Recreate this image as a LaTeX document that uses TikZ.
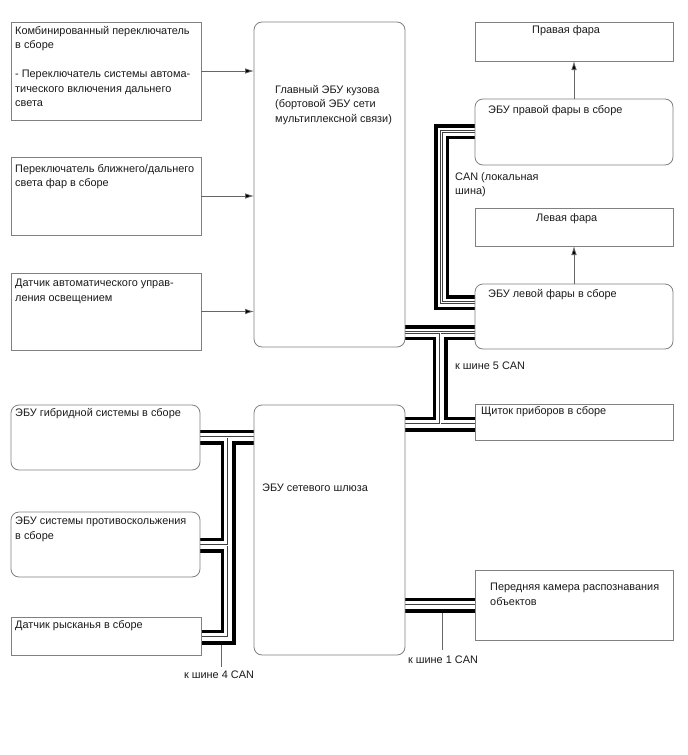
\documentclass[tikz,border=0pt]{standalone}
\usepackage{fontspec}
\setmainfont{Liberation Sans}
\usetikzlibrary{arrows.meta}
\pgfdeclarelayer{background}
\pgfsetlayers{background,main}
\definecolor{boxgray}{HTML}{808080}
\definecolor{txtcol}{HTML}{1A1A1A}
\newcommand\canbus[1]{%
  \draw[line width=15pt,black] #1;
  \draw[line width=8pt,white] #1;
  \draw[line width=2.2pt,black!75] #1;
  \draw[line width=0.7pt,white] #1;}
\begin{document}
\begin{tikzpicture}[x=1pt,y=-1pt,
  sq/.style={draw=boxgray, line width=0.8pt, inner sep=0pt, outer sep=0pt, anchor=north west},
  rnd/.style={sq, rounded corners=8pt},
  txt/.style={anchor=north west, inner sep=0pt, align=left, text=txtcol,
    font=\fontsize{10.9}{14.5}\selectfont},
  arr/.style={draw=black!60, line width=0.7pt, -{Latex[length=9pt,width=5.5pt,fill=black]}},
  stub/.style={draw=black!60, line width=0.8pt}]
\useasboundingbox (0,0) rectangle (688,755);
% boxes
\node[sq,  minimum width=190, minimum height=98]  (combo) at (11,22) {};
\node[sq,  minimum width=190, minimum height=78]  (beam) at (11,157) {};
\node[sq,  minimum width=190, minimum height=77]  (lsens) at (11,273) {};
\node[rnd, minimum width=151, minimum height=325] (mainecu) at (254,22) {};
\node[sq,  minimum width=198, minimum height=39]  (rhl) at (475,22) {};
\node[rnd, minimum width=198, minimum height=66]  (rhlecu) at (475,99) {};
\node[sq,  minimum width=198, minimum height=38]  (lhl) at (475,208) {};
\node[rnd, minimum width=198, minimum height=65]  (lhlecu) at (475,284) {};
\node[rnd, minimum width=189, minimum height=65]  (hybrid) at (11,405) {};
\node[rnd, minimum width=189, minimum height=65]  (abs) at (11,512) {};
\node[sq,  minimum width=190, minimum height=38]  (yaw) at (11,617) {};
\node[rnd, minimum width=151, minimum height=250] (gateway) at (254,405) {};
\node[sq,  minimum width=198, minimum height=36]  (meter) at (475,404) {};
\node[sq,  minimum width=198, minimum height=70]  (camera) at (475,570) {};
% texts
\node[txt] (t-combo) at (15,26) {Комбинированный переключатель\\в сборе\\[14.5pt]- Переключатель системы автома-\\тического включения дальнего\\света};
\node[txt] (t-beam) at (15,164) {Переключатель ближнего/дальнего\\света фар в сборе};
\node[txt] (t-lsens) at (15,279) {Датчик автоматического управ-\\ления освещением};
\node[txt] (t-main) at (275,85) {Главный ЭБУ кузова\\(бортовой ЭБУ сети\\мультиплексной связи)};
\node[txt] (t-rhl) at (532,25) {Правая фара};
\node[txt] (t-rhlecu) at (488,105) {ЭБУ правой фары в сборе};
\node[txt] (t-lhl) at (536,213) {Левая фара};
\node[txt] (t-lhlecu) at (488,289) {ЭБУ левой фары в сборе};
\node[txt] (t-hybrid) at (15,408) {ЭБУ гибридной системы в сборе};
\node[txt] (t-abs) at (15,517) {ЭБУ системы противоскольжения\\в сборе};
\node[txt] (t-yaw) at (15,620) {Датчик рысканья в сборе};
\node[txt] (t-gw) at (262,484) {ЭБУ сетевого шлюза};
\node[txt] (t-meter) at (481,406) {Щиток приборов в сборе};
\node[txt] (t-cam) at (490,583) {Передняя камера распознавания\\объектов};
\node[txt] (t-local) at (455,172) {CAN (локальная\\шина)};
\node[txt] (t-can5) at (455,362) {к шине 5 CAN};
\node[txt, anchor=north, inner sep=2pt] (t-can4) at (219,669) {к шине 4 CAN};
\node[txt, anchor=north, inner sep=2pt] (t-can1) at (443,654) {к шине 1 CAN};
% arrows
\draw[arr] (combo.east) -- (mainecu.west |- combo.east);
\draw[arr] (beam.east) -- (mainecu.west |- beam.east);
\draw[arr] (lsens.east) -- (mainecu.west |- lsens.east);
\draw[arr] (rhlecu.north) -- (rhl.south);
\draw[arr] (lhlecu.north) -- (lhl.south);
% bus coordinates
\coordinate (lc1) at (441.5,131.5);
\coordinate (lc2) at (441.5,302.5);
\coordinate (r1) at (440,332.5);
\coordinate (r2) at (440,424);
\coordinate (c1) at (442,605);
\coordinate (s1) at (442,650);
\coordinate (j4) at (228,437);
\coordinate (k4a) at (228,545);
\coordinate (k4b) at (228,637);
\coordinate (s4) at (221,637);
\coordinate (s4e) at (221,667);
\begin{pgfonlayer}{background}
\draw[stub] (c1) -- (s1);
\draw[stub] (s4) -- (s4e);
\canbus{(rhlecu.west |- lc1) -- (lc1) -- (lc2) -- (lhlecu.west |- lc2)}
\canbus{(mainecu.east |- r1) -- (lhlecu.west |- r1) (r1) -- (r2) (gateway.east |- r2) -- (meter.west |- r2)}
\canbus{(gateway.east |- c1) -- (camera.west |- c1)}
\canbus{(gateway.west |- j4) -- (hybrid.east |- j4) (j4) -- (k4b) -- (yaw.east |- k4b) (k4a) -- (abs.east |- k4a)}
\end{pgfonlayer}
\end{tikzpicture}
\end{document}
